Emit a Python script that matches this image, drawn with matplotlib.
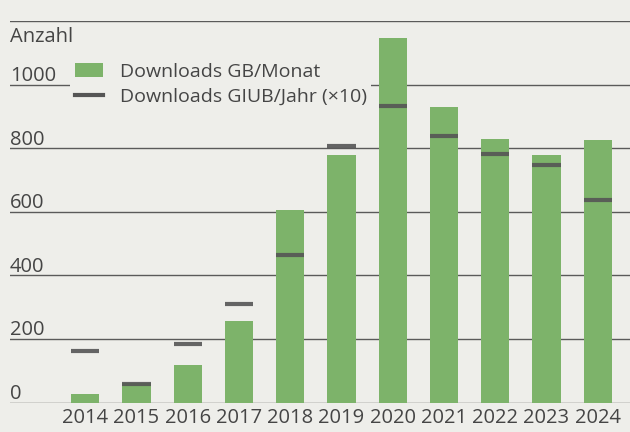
import numpy as np
import matplotlib.pyplot as plt
from matplotlib.patches import Patch
from matplotlib.lines import Line2D
import matplotlib.transforms as mtransforms

### Data
years = ['2014', '2015', '2016', '2017', '2018', '2019', '2020', '2021', '2022', '2023', '2024']
gb_per_month = [27, 60, 117, 256, 606, 778, 1148, 931, 828, 780, 827]
giub_per_year_x10 = [163, 57, 185, 311, 463, 808, 933, 839, 783, 748, 636]
y_ticks = [0, 200, 400, 600, 800, 1000]

### Styles
bg = '#eeeeea'
green = '#7db36a'
marker_col = '#555555'
text_col = '#454545'
grid_col = '#5a5a5a'

plt.rcParams['font.family'] = ['Open Sans', 'DejaVu Sans']

fig = plt.figure(figsize=(6.3, 4.32), dpi=100, facecolor=bg)
ax = fig.add_axes([10 / 630, (432 - 402.5) / 432, 620 / 630, 381.2 / 432])
ax.set_facecolor(bg)

x = np.arange(len(years))
bar_w = 0.55

ax.bar(x, gb_per_month, width=bar_w, color=green, zorder=2)
ax.hlines(giub_per_year_x10, x - bar_w / 2, x + bar_w / 2, colors=marker_col,
          linewidth=3.0, alpha=0.9, zorder=3)

### Gridlines
for v in y_ticks + [1200]:
    ax.axhline(v, color=grid_col, linewidth=1.0, zorder=1)

ax.set_xlim(-1.47, 10.63)
ax.set_ylim(0, 1200)
for s in ax.spines.values():
    s.set_visible(False)

ax.set_xticks(x)
ax.set_xticklabels(years, fontsize=14.5, color=text_col)
ax.tick_params(axis='x', length=0, pad=4)
ax.set_yticks([])

### y labels sit above the gridlines, left aligned
offset = mtransforms.ScaledTranslation(0, -1 / 72, fig.dpi_scale_trans)
for v in y_ticks:
    ax.text(0, v, str(v), transform=ax.get_yaxis_transform() + offset,
            ha='left', va='bottom', fontsize=14.5, color=text_col)
ax.text(0, 1200, 'Anzahl', transform=ax.get_yaxis_transform()
        + mtransforms.ScaledTranslation(0, -4 / 72, fig.dpi_scale_trans),
        ha='left', va='top', fontsize=14.5, color=text_col)

### Legend
handles = [Patch(facecolor=green, edgecolor='none'),
           Line2D([0], [0], color=marker_col, linewidth=3.0)]
labels = ['Downloads GB/Monat', 'Downloads GIUB/Jahr (\u00d710)']
leg = fig.legend(handles, labels, loc='upper left',
                 bbox_to_anchor=(70 / 630, 1 - 58 / 432),
                 fontsize=14, frameon=True, facecolor=bg, edgecolor='none',
                 framealpha=1, fancybox=False, borderpad=0.25,
                 handlelength=1.45, handleheight=0.75, handletextpad=0.85,
                 labelspacing=0.35, borderaxespad=0)
for t in leg.get_texts():
    t.set_color(text_col)

fig.savefig('out.png', dpi=100, facecolor=bg)
